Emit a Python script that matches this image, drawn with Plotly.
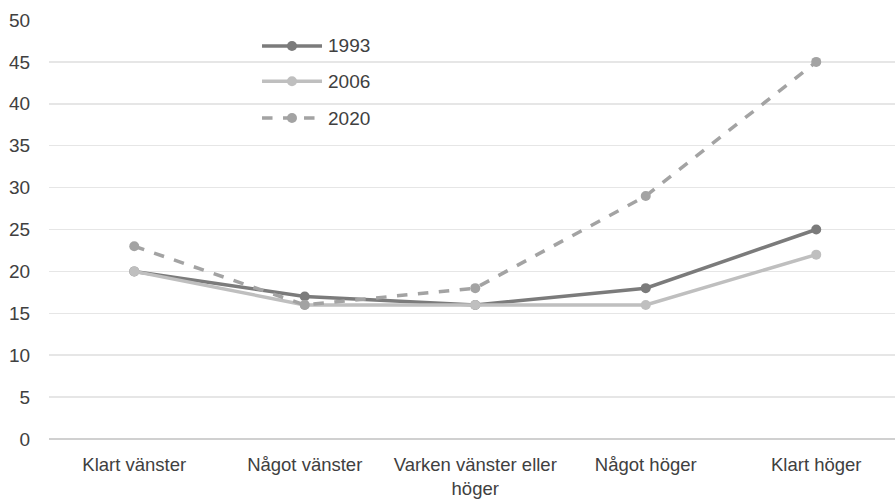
import plotly.graph_objects as go

categories = ["Klart vänster", "Något vänster", "Varken vänster eller<br>höger", "Något höger", "Klart höger"]
years = ["1993", "2006", "2020"]
v1993 = [20, 17, 16, 18, 25]
v2006 = [20, 16, 16, 16, 22]
v2020 = [23, 16, 18, 29, 45]
y_ticks = [0, 5, 10, 15, 20, 25, 30, 35, 40, 45, 50]

series = [v1993, v2006, v2020]
colors = ["#7b7b7b", "#bfbfbf", "#a3a3a3"]
dashes = ["solid", "solid", "dash"]

fig = go.Figure()
for name, vals, c, d in zip(years, series, colors, dashes):
    fig.add_trace(go.Scatter(
        x=list(range(len(categories))), y=vals, name=name, mode="lines+markers",
        line=dict(color=c, width=3.5, dash=d),
        marker=dict(color=c, size=10),
        showlegend=False, hoverinfo="skip",
    ))

# manual legend (paper coordinates)
leg_y = [0.938, 0.854, 0.766]
for name, c, d, ly in zip(years, colors, dashes, leg_y):
    fig.add_shape(type="line", xref="paper", yref="paper", x0=0.2518, x1=0.3227, y0=ly, y1=ly,
                  line=dict(color=c, width=3.5, dash=d))
    fig.add_shape(type="circle", xref="paper", yref="paper", xsizemode="pixel", ysizemode="pixel",
                  xanchor=0.2872, yanchor=ly, x0=-5, x1=5, y0=-5, y1=5,
                  fillcolor=c, line=dict(color=c, width=0))
    fig.add_annotation(xref="paper", yref="paper", x=0.3274, y=ly, text=name, showarrow=False,
                       xanchor="left", yanchor="middle", font=dict(size=19, color="#404040"))

fig.update_layout(
    width=895, height=500,
    margin=dict(l=49, r=0, t=20, b=61),
    paper_bgcolor="white", plot_bgcolor="white",
    font=dict(family="Liberation Sans, Arial, sans-serif", size=19, color="#404040"),
    xaxis=dict(
        range=[-0.5, 4.462], tickmode="array", tickvals=list(range(len(categories))),
        ticktext=categories, showgrid=False, zeroline=False, showline=False,
        ticks="outside", ticklen=9, tickcolor="rgba(0,0,0,0)", automargin=False,
        tickfont=dict(size=18.5),
    ),
    yaxis=dict(
        range=[0, 50], tickmode="array", tickvals=y_ticks, showgrid=True,
        gridcolor="#e6e6e6", gridwidth=1.5, zeroline=True, zerolinecolor="#d0d0d0", zerolinewidth=1.5,
        showline=False, ticks="outside", ticklen=14, tickcolor="rgba(0,0,0,0)", automargin=False,
    ),
)

fig.write_html("out.html", config={"displayModeBar": False, "staticPlot": True},
               post_script="document.body.style.margin='0';document.body.style.overflow='hidden';")
